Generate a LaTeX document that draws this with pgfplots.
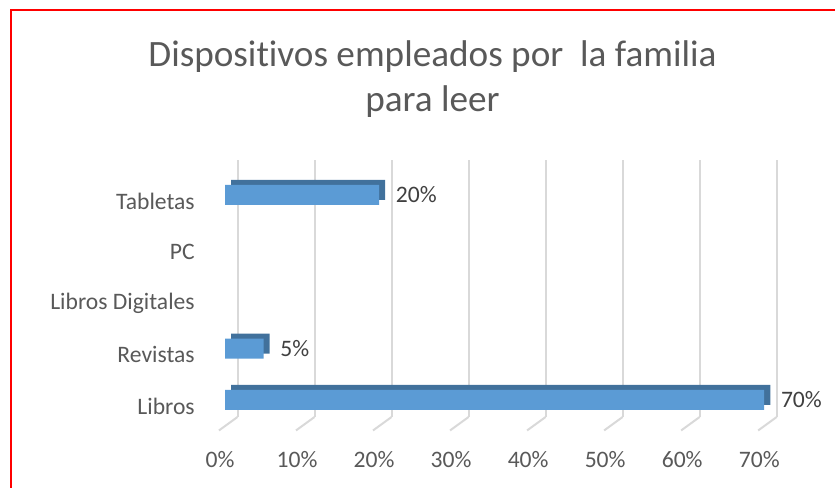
\documentclass[border=0pt]{standalone}
\usepackage{fontspec}
\setmainfont{Carlito}[Ligatures=NoCommon]
\usepackage{pgfplots}
\pgfplotsset{compat=1.18}
\definecolor{barfront}{HTML}{5B9BD5}
\definecolor{bardark}{HTML}{41719C}
\definecolor{gridc}{HTML}{D9D9D9}
\definecolor{txt}{HTML}{595959}
\definecolor{lbl}{HTML}{404040}
\begin{document}
\begin{tikzpicture}
\path[use as bounding box] (0,0) rectangle (626.25pt,366pt);
\draw[red, line width=1.2pt] (8.25pt,0) -- (8.25pt,358.5pt) -- (626.25pt,358.5pt);
\node[anchor=base, text=txt, font=\fontsize{27.9}{34}\selectfont, inner sep=0] at (324.4pt,316pt) {Dispositivos empleados por\ \ la familia};
\node[anchor=base, text=txt, font=\fontsize{27.9}{34}\selectfont, inner sep=0] at (324.4pt,282.2pt) {para leer};
\begin{axis}[
  at={(178.125pt,53.25pt)}, anchor=south west,
  scale only axis, width=404.4pt, height=192.75pt,
  xmin=0, xmax=70, ymin=-0.332, ymax=4.683,
  clip=false,
  /pgf/number format/assume math mode=true,
  axis line style={draw=none},
  tick style={draw=none},
  xmajorgrids, grid style={gridc, line width=1.5pt},
  xtick={0,10,20,30,40,50,60,70},
  xticklabels={0\%,10\%,20\%,30\%,40\%,50\%,60\%,70\%},
  ytick={0,1,2,3,4},
  yticklabels={Libros,Revistas,Libros Digitales,PC,Tabletas},
  xticklabel style={anchor=center, inner sep=0, xshift=-13.1pt, yshift=-31.9pt, text=txt, font=\fontsize{17.7}{21}\selectfont},
  yticklabel style={anchor=east, inner sep=0, xshift=-31.9pt, yshift=-4.5pt, text=txt, font=\fontsize{17.7}{21}\selectfont},
]
\pgfplotsinvokeforeach{0,10,20,30,40,50,60,70}{
  \draw[gridc, line width=1.5pt] (axis cs:#1,-0.332) -- ++(-13.9pt,-10.1pt);
}
\addplot[xbar, bar width=15pt, fill=bardark, draw=none, xshift=-4.8pt, yshift=3.75pt]
  coordinates {(70,0) (5,1) (20,4)};
\addplot[xbar, bar width=15pt, fill=barfront, draw=none, xshift=-9.375pt,
  nodes near coords={\pgfmathprintnumber{\pgfplotspointmeta}\%},
  point meta=x,
  every node near coord/.append style={anchor=west, inner sep=0, xshift=12.4pt, text=lbl, font=\fontsize{17.7}{21}\selectfont}]
  coordinates {(70,0) (5,1) (20,4)};
\end{axis}
\end{tikzpicture}
\end{document}
